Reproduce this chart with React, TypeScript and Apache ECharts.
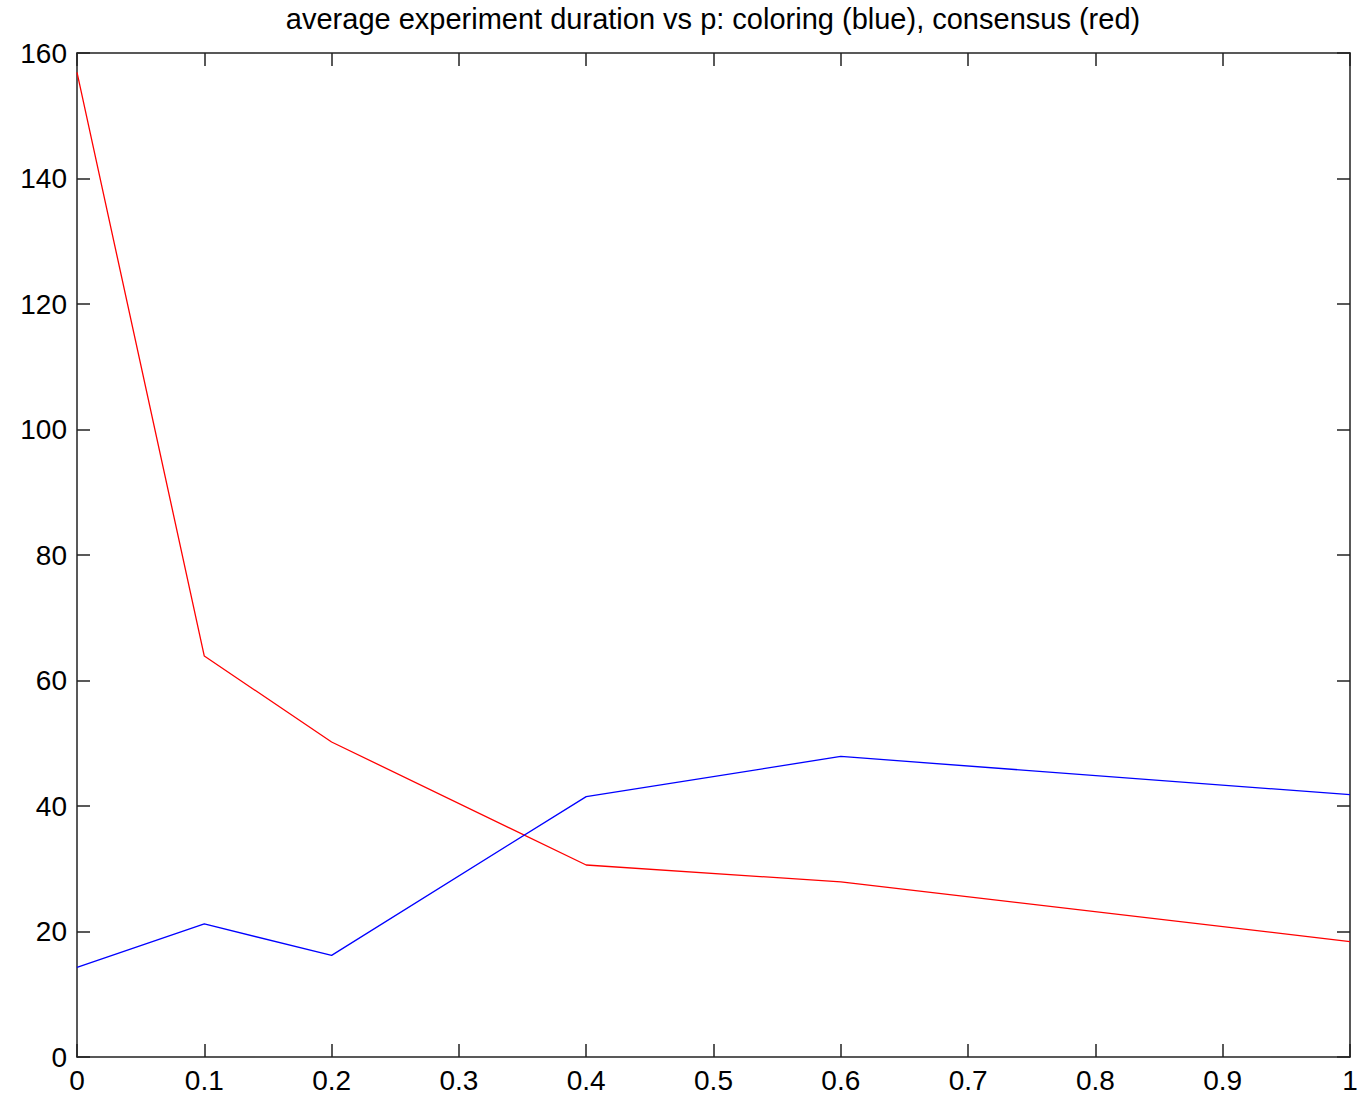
import React, { useEffect, useRef } from "react";
import * as echarts from "echarts";

const pValues = [0, 0.1, 0.2, 0.4, 0.6, 1.0];
const coloring = [14.3, 21.2, 16.2, 41.5, 47.9, 41.8];
const consensus = [156.9, 63.9, 50.2, 30.6, 27.9, 18.4];
const titleText = "average experiment duration vs p: coloring (blue), consensus (red)";

const FONT = "Liberation Sans, Arial, sans-serif";

export default function App() {
  const ref = useRef<HTMLDivElement>(null);
  useEffect(() => {
    document.body.style.margin = "0";
    const chart = echarts.init(ref.current!, null, { renderer: "svg" });
    const tickStyle = { show: true, inside: true, length: 13, lineStyle: { color: "#222", width: 1.5 } };
    const lineStyle = { show: true, onZero: false, lineStyle: { color: "#222", width: 1.5 } };
    chart.setOption({
      animation: false,
      backgroundColor: "#fff",
      grid: { left: 77, top: 53, right: 11, bottom: 44, containLabel: false },
      graphic: [
        {
          type: "text",
          x: 713,
          y: 19,
          style: {
            text: titleText,
            textAlign: "center",
            textVerticalAlign: "middle",
            font: `29px ${FONT}`,
            fill: "#000",
          },
        },
      ],
      xAxis: [
        {
          type: "value",
          min: 0,
          max: 1,
          interval: 0.1,
          position: "bottom",
          axisLine: lineStyle,
          axisTick: tickStyle,
          splitLine: { show: false },
          axisLabel: { color: "#000", fontSize: 28, fontFamily: FONT, margin: 9 },
        },
        {
          type: "value",
          min: 0,
          max: 1,
          interval: 0.1,
          position: "top",
          axisLine: lineStyle,
          axisTick: tickStyle,
          splitLine: { show: false },
          axisLabel: { show: false },
        },
      ],
      yAxis: [
        {
          type: "value",
          min: 0,
          max: 160,
          interval: 20,
          position: "left",
          axisLine: lineStyle,
          axisTick: tickStyle,
          splitLine: { show: false },
          axisLabel: { color: "#000", fontSize: 28, fontFamily: FONT, margin: 10 },
        },
        {
          type: "value",
          min: 0,
          max: 160,
          interval: 20,
          position: "right",
          axisLine: lineStyle,
          axisTick: tickStyle,
          splitLine: { show: false },
          axisLabel: { show: false },
        },
      ],
      series: [
        {
          name: "consensus",
          type: "line",
          xAxisIndex: 0,
          yAxisIndex: 0,
          data: pValues.map((p, i) => [p, consensus[i]]),
          showSymbol: false,
          lineStyle: { color: "#ff0000", width: 1.3 },
          itemStyle: { color: "#ff0000" },
        },
        {
          name: "coloring",
          type: "line",
          xAxisIndex: 0,
          yAxisIndex: 0,
          data: pValues.map((p, i) => [p, coloring[i]]),
          showSymbol: false,
          lineStyle: { color: "#0000ff", width: 1.3 },
          itemStyle: { color: "#0000ff" },
        },
      ],
    });
    return () => chart.dispose();
  }, []);
  return <div ref={ref} style={{ position: "absolute", left: 0, top: 0, width: 1361, height: 1101 }} />;
}
